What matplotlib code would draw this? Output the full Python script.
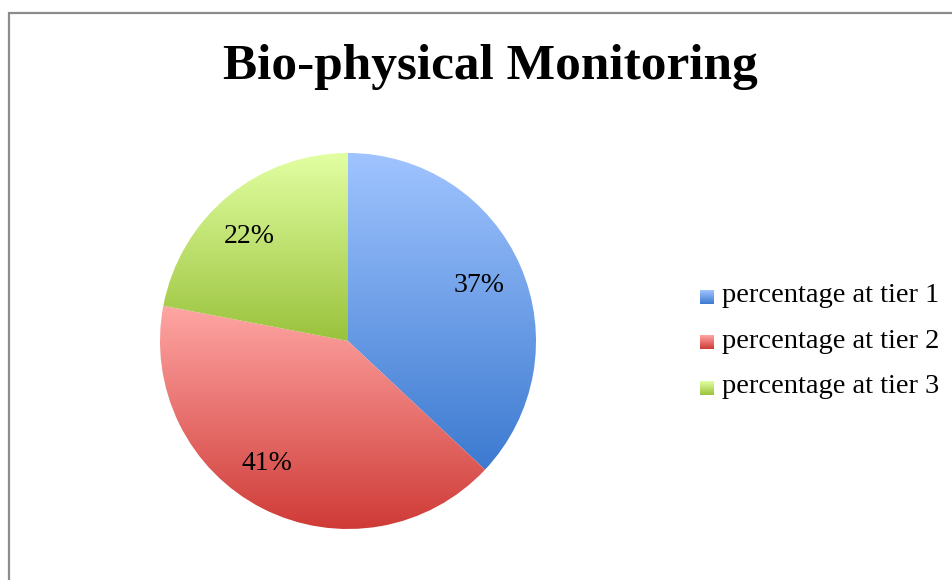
import numpy as np
import matplotlib.pyplot as plt
from matplotlib.patches import Rectangle

plt.rcParams['font.family'] = ['Liberation Serif', 'DejaVu Serif']

title = "Bio-physical Monitoring"
labels = ["percentage at tier 1", "percentage at tier 2", "percentage at tier 3"]
values = [37, 41, 22]
top_colors = ["#a0c4ff", "#ffa6a4", "#e2ffa2"]
bottom_colors = ["#3c7ad0", "#cf3b37", "#9ac23c"]

W, H = 953, 580
fig = plt.figure(figsize=(W / 100, H / 100), dpi=100)
ax = fig.add_axes([0, 0, 1, 1])


def grad_img(c_top, c_bot, n=256):
    a = np.array(plt.matplotlib.colors.to_rgb(c_top))
    b = np.array(plt.matplotlib.colors.to_rgb(c_bot))
    t = np.linspace(0, 1, n)[:, None]
    return (a * (1 - t) + b * t)[:, None, :]


# pie in pixel-like coords (y up)
wedges, texts = ax.pie(values, startangle=90, counterclock=False,
                       center=(348, H - 341), radius=188, frame=True,
                       labels=[f"{v}%" for v in values], labeldistance=0.68,
                       textprops=dict(fontsize=20))
for w, c0, c1 in zip(wedges, top_colors, bottom_colors):
    ext = w.get_path().get_extents()
    w.set_facecolor("none")
    w.set_edgecolor("none")
    im = ax.imshow(grad_img(c0, c1), extent=[ext.x0, ext.x1, ext.y0, ext.y1],
                   origin="upper", aspect="auto", zorder=1)
    im.set_clip_path(w)

# label positions (center x, baseline y)
label_pos = [(479, 292), (267, 470), (249, 243)]
for t, (px, py) in zip(texts, label_pos):
    t.set_position((px, H - py))
    t.set_ha("center")
    t.set_va("baseline")

# legend with gradient squares
for i, (lab, c0, c1) in enumerate(zip(labels, top_colors, bottom_colors)):
    yc = H - (297 + i * 45.5)
    ax.imshow(grad_img(c0, c1), extent=[700, 714, yc - 7, yc + 7],
              origin="upper", aspect="auto", zorder=2)
    ax.text(722, yc - 5, lab, fontsize=20.5, va="baseline", ha="left")

ax.text(490, H - 79, title, fontsize=37, fontweight="bold",
        ha="center", va="baseline")

ax.add_patch(Rectangle((9, -20), W + 20, H - 13 + 20, fill=False,
                       edgecolor="#8c8c8c", linewidth=1.6, zorder=3))

ax.set_xlim(0, W)
ax.set_ylim(0, H)
ax.set_aspect("auto")
ax.axis("off")
fig.savefig("out.png", dpi=100)
